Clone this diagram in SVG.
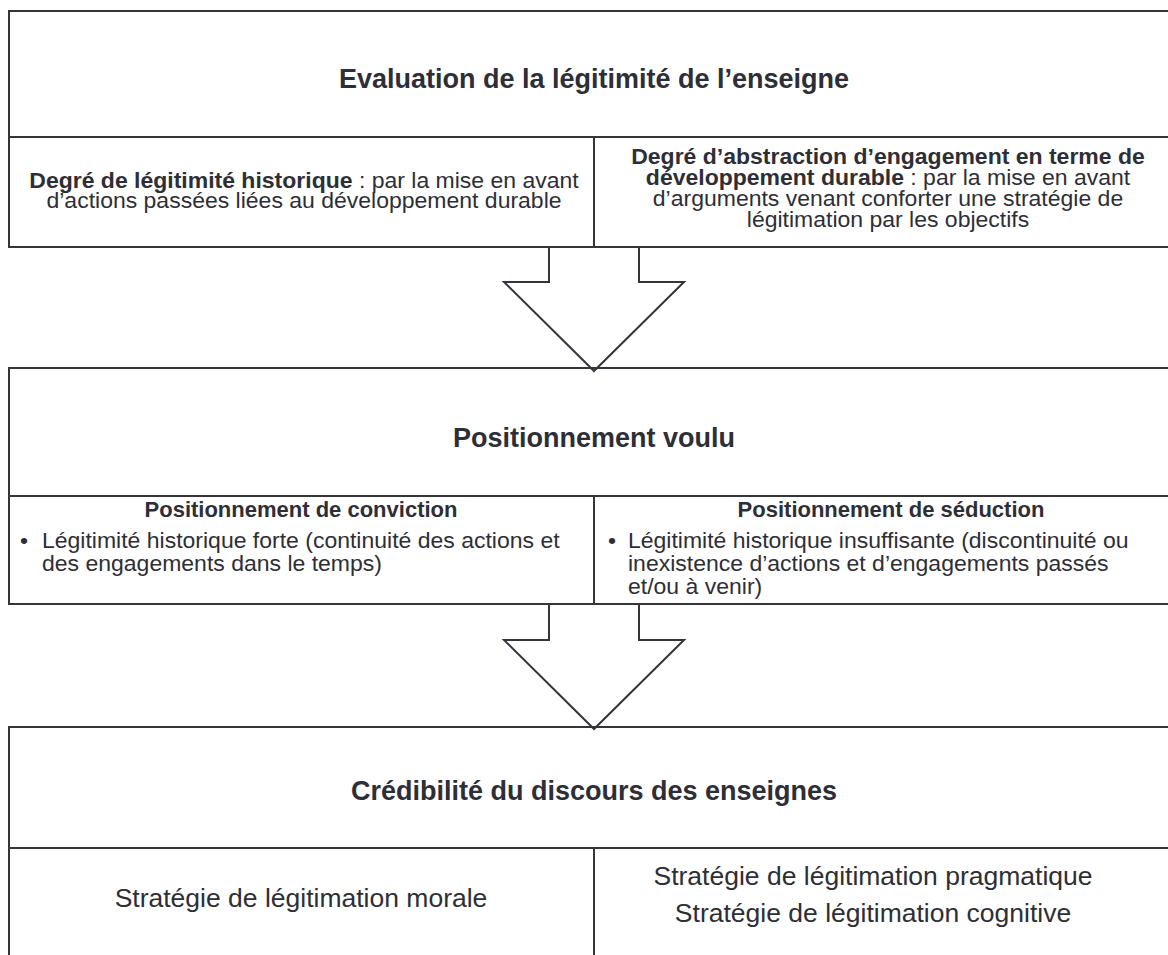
<svg xmlns="http://www.w3.org/2000/svg" width="1168" height="955" viewBox="0 0 1168 955">
<style>
.box{fill:#fff;stroke:#34343b;stroke-width:2}
.ln{stroke:#34343b;stroke-width:2;fill:none}
.arr{fill:none;stroke:#34343b;stroke-width:2;stroke-linejoin:miter}
text{font-family:"Liberation Sans",Arial,sans-serif;fill:#2e2e36}
.t{font-size:27px;font-weight:bold;text-anchor:middle}
.b{font-size:21.3px}
.c{text-anchor:middle}
.h{font-size:22px;font-weight:bold;text-anchor:middle}
.s{font-size:26.5px;text-anchor:middle}
.bold{font-weight:bold}
</style>
<rect width="1168" height="955" fill="#fff"/>
<g id="evaluation">
<rect class="box" x="9" y="11" width="1170" height="236"/>
<line class="ln" x1="9" y1="137" x2="1179" y2="137"/>
<line class="ln" x1="594" y1="137" x2="594" y2="247"/>
<text class="t" x="594" y="88">Evaluation de la légitimité de l’enseigne</text>
<text class="b c" transform="translate(304,188) scale(1.08,1)"><tspan class="bold">Degré de légitimité historique</tspan> : par la mise en avant</text>
<text class="b c" transform="translate(304,208) scale(1.08,1)">d’actions passées liées au développement durable</text>
<text class="b c" transform="translate(888,164) scale(1.08,1)"><tspan class="bold">Degré d’abstraction d’engagement en terme de</tspan></text>
<text class="b c" transform="translate(888,185) scale(1.08,1)"><tspan class="bold">développement durable</tspan> : par la mise en avant</text>
<text class="b c" transform="translate(888,206) scale(1.08,1)">d’arguments venant conforter une stratégie de</text>
<text class="b c" transform="translate(888,227) scale(1.08,1)">légitimation par les objectifs</text>
</g>
<g id="positionnement">
<rect class="box" x="9" y="368" width="1170" height="236"/>
<line class="ln" x1="9" y1="496" x2="1179" y2="496"/>
<line class="ln" x1="594" y1="496" x2="594" y2="604"/>
<text class="t" x="594" y="447">Positionnement voulu</text>
<text class="h" x="301" y="517">Positionnement de conviction</text>
<text class="b" transform="translate(20,548) scale(1.08,1)">•</text>
<text class="b" transform="translate(42,548) scale(1.08,1)">Légitimité historique forte (continuité des actions et</text>
<text class="b" transform="translate(42,571) scale(1.08,1)">des engagements dans le temps)</text>
<text class="h" x="891" y="517">Positionnement de séduction</text>
<text class="b" transform="translate(608,548) scale(1.08,1)">•</text>
<text class="b" transform="translate(628,548) scale(1.08,1)">Légitimité historique insuffisante (discontinuité ou</text>
<text class="b" transform="translate(628,571) scale(1.08,1)">inexistence d’actions et d’engagements passés</text>
<text class="b" transform="translate(628,594) scale(1.08,1)">et/ou à venir)</text>
</g>
<g id="credibilite">
<rect class="box" x="9" y="727" width="1170" height="240"/>
<line class="ln" x1="9" y1="848" x2="1179" y2="848"/>
<line class="ln" x1="594" y1="848" x2="594" y2="960"/>
<text class="t" x="594" y="800">Crédibilité du discours des enseignes</text>
<text class="s" x="301" y="907">Stratégie de légitimation morale</text>
<text class="s" x="873" y="885">Stratégie de légitimation pragmatique</text>
<text class="s" x="873" y="922">Stratégie de légitimation cognitive</text>
</g>
<g id="connectors">
<polyline class="arr" points="549,248 549,282 504,282 594,371 684,282 639,282 639,248"/>
<polyline class="arr" points="549,605 549,640 504,640 594,729 684,640 639,640 639,605"/>
</g>
</svg>
